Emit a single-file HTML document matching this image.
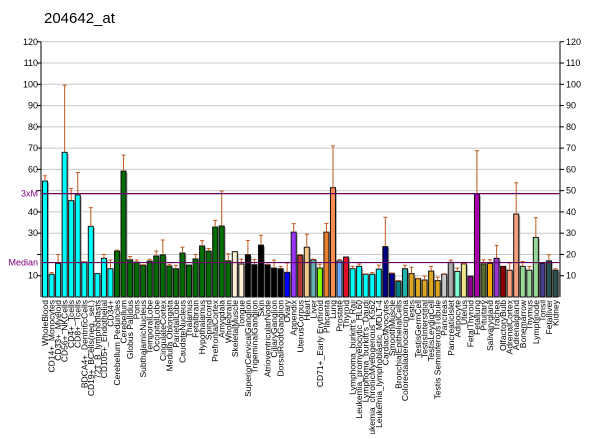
<!DOCTYPE html>
<html><head><meta charset="utf-8"><style>
body{margin:0;background:#fff;width:600px;height:434px;overflow:hidden}
svg{font-family:"Liberation Sans",Arial,sans-serif}
</style></head><body>
<svg id="chart" width="600" height="434" viewBox="0 0 600 434" xmlns="http://www.w3.org/2000/svg">
<text x="44" y="23" font-size="15">204642_at</text>
<g id="grid"></g><g id="bars"></g><g id="axes"></g><g id="labels"></g>
</svg>
<script>
const categories=["WholeBlood","CD14+_Monocytes","CD33+_Myeloid","CD56+_NKCells","CD4+_Tcells","CD8+_Tcells","BDCA4+_DentriticCells","CD19+_BCells(neg._sel.)","721_B_lymphoblasts","CD105+_Endothelial","CD34+","Cerebellum Peduncles","Cerebellum","Globus Pallidus","Pons","SubthalamicNucleus","TemporalLobe","OccipitalLobe","CingulateCortex","Medulla Oblongata","ParietalLobe","CaudateNucleus","Thalamus","Fetalbrain","Hypothalamus","Spinalcord","PrefrontalCortex","Amygdala","Wholebrain","SkeletalMuscle","Tongue","SuperiorCervicalGanglion","TrigeminalGanglion","Skin","AtrioventricularNode","CiliaryGanglion","DorsalRootGanglion","Ovary","Appendix","UterusCorpus","Heart","Liver","CD71+_Early Erythroid","Placenta","Lung","Prostate","Thyroid","Lymphoma_burkitt's_Raji","Leukemia_promyelocytic_HL60","Lymphoma_burkitt's_Daudi","Leukemia_chronicMyelogenous_K562","Leukemia_lymphoblastic_MOLT-4","CardiacMyocytes","SmoothMuscle","BronchialEpithelialCells","Colorectaladenocarcinoma","Testis","TestisGermCell","TestisInterstitial","TestisLeydigCell","Testis SeminiferousTubule","Pancreas","PancreaticIslet","Adipocyte","Uterus","FetalThyroid","Fetallung","Pituitary","Salivarygland","Trachea","OlfactoryBulb","AdrenalCortex","Adrenalgland","Bonemarrow","Thymus","Lymphnode","Tonsil","Fetalliver","Kidney"];
const values=[54.5,10.7,15.8,68,45.3,48,16.4,33.2,11,18.2,13.3,21.6,59.2,17.5,16.4,14.9,16.9,19.3,19.8,14.6,13.3,20.7,15,17.9,24,21.6,32.9,33.4,17,21.3,15.5,19.9,15.2,24.4,15.2,13.6,13.3,11.6,30.5,19.6,23.4,17.5,13.6,30.5,51.4,17,18.8,13.3,14.4,10.7,10.7,13.1,23.7,11.1,7.5,13.3,11,8.6,8,12.2,7.7,10.7,16.3,12,15.6,9.8,48.4,15.6,15.8,18.2,14.4,12.6,39,14.4,12.6,28,15.8,17,12.6];
const errors=[57,11.5,20,99.6,51,58.5,16.6,42,11.2,20,17.4,22,66.7,19,17.4,15.2,17.7,21.6,26.8,15.4,14.9,23.4,15.2,20,26.5,22.8,36,49.8,20.3,21.5,17.8,26.6,17.7,29,15.4,17.4,14.4,16,34.5,20,29.5,17.8,15.4,34.6,71,17.7,19,14.4,15.5,10.9,11.5,15,37.5,11.3,7.8,14.9,14,8.8,9.9,14.4,9.3,10.9,17.4,13.6,15.8,9.8,68.8,17.5,17.5,24.3,14.6,16,53.7,16.7,14.4,37.3,15.8,19.9,13.3];
const colors=["#00ffff","#00ffff","#00ffff","#00ffff","#00ffff","#00ffff","#00ffff","#00ffff","#00ffff","#00ffff","#00ffff",
"#006b00","#006b00","#006b00","#006b00","#006b00","#006b00","#006b00","#006b00","#006b00","#006b00","#006b00","#006b00","#006b00","#006b00","#006b00","#006b00","#006b00","#006b00",
"#fff0d5","#fff0d5","#000","#000","#000","#000","#000","#000","#0000ff","#9933ff","#b83838","#f0c888","#66b2b2","#88ff00","#e8802c","#ff8c50","#6fa8ff","#e0102a",
"#00ffff","#00ffff","#00ffff","#00ffff","#00ffff","#000080","#00008b","#008080","#20b2aa","#daa520","#daa520","#daa520","#daa520","#daa520","#c8c8c8","#a9a9a9","#7fffd4","#f0e68c","#8b008b","#aa00aa","#556b2f","#ffa500","#9932cc","#8b0000","#ffa07a","#f4a080","#98d898","#98d898","#98d898","#483d8b","#2f4f4f","#2f4f4f"];
const yTicks=[10,20,30,40,50,60,70,80,90,100,110,120];
const medianValue=16.2, threeXM=48.6;
const NS="http://www.w3.org/2000/svg";
const x0=41,x1=560,y0=297,pxPerUnit=2.127;
const yScale=v=>y0-v*pxPerUnit;
const step=(x1-x0-2)/categories.length;
const xScale=i=>x0+1.5+i*step;
function mk(tag,attrs,parent){const e=document.createElementNS(NS,tag);for(const k in attrs)e.setAttribute(k,attrs[k]);parent.appendChild(e);return e;}
const grid=document.getElementById('grid'),bars=document.getElementById('bars'),axes=document.getElementById('axes'),labels=document.getElementById('labels');
yTicks.forEach(t=>{
 const y=yScale(t);
 const g=mk('line',{x1:x0,x2:x1,y1:y,y2:y,stroke:'#c8c8c8','stroke-width':1},grid);
 
 
 mk('line',{x1:x0-4,x2:x0,y1:y,y2:y,stroke:'#000'},axes);
 mk('line',{x1:x1,x2:x1+4,y1:y,y2:y,stroke:'#000'},axes);
 if(t!==20&&t!==50){const l=mk('text',{x:x0-3,y:y+3,'font-size':9,'text-anchor':'end'},axes);l.textContent=t;
 
 }
 const r=mk('text',{x:x1+6,y:y+3,'font-size':9},axes);r.textContent=t;
 
 
});
mk('line',{x1:x0,x2:x0,y1:yScale(120),y2:y0,stroke:'#000'},axes);
mk('line',{x1:x1,x2:x1,y1:yScale(120),y2:y0,stroke:'#000'},axes);
values.forEach((v,i)=>{
 const x=xScale(i),w=step-1.5,y=yScale(v);
 mk('rect',{x:x+1.5,y:y+1.5,width:w,height:y0-y-1.5,fill:'#b0b0b0'},bars);
 const b=mk('rect',{x:x,y:y,width:w,height:y0-y,fill:colors[i],stroke:'#111','stroke-width':1},bars);
 
 
 const ey=yScale(errors[i]),cx=x+w/2;
 if(errors[i]>v+0.2){
 mk('line',{x1:cx,x2:cx,y1:ey,y2:y,stroke:'#c0581e','stroke-width':1},bars);
 mk('line',{x1:cx-2,x2:cx+2,y1:ey,y2:ey,stroke:'#c0581e','stroke-width':1},bars);}
 const t=mk('text',{transform:`translate(${cx+3},300) rotate(-90)`,'font-size':8.5,'text-anchor':'end'},labels);
 t.textContent=categories[i];
 
 
});
[[medianValue,'Median'],[threeXM,'3xM']].forEach(([v,n])=>{
 const y=yScale(v);
 const l=mk('line',{x1:x0,x2:x1,y1:y,y2:y,stroke:'#660066','stroke-width':1.2},axes);
 
 
 const t=mk('text',{x:x0-3,y:y+3,'font-size':9,'text-anchor':'end',fill:'#800080'},axes);t.textContent=n;
 
 
});
</script>
</body></html>
